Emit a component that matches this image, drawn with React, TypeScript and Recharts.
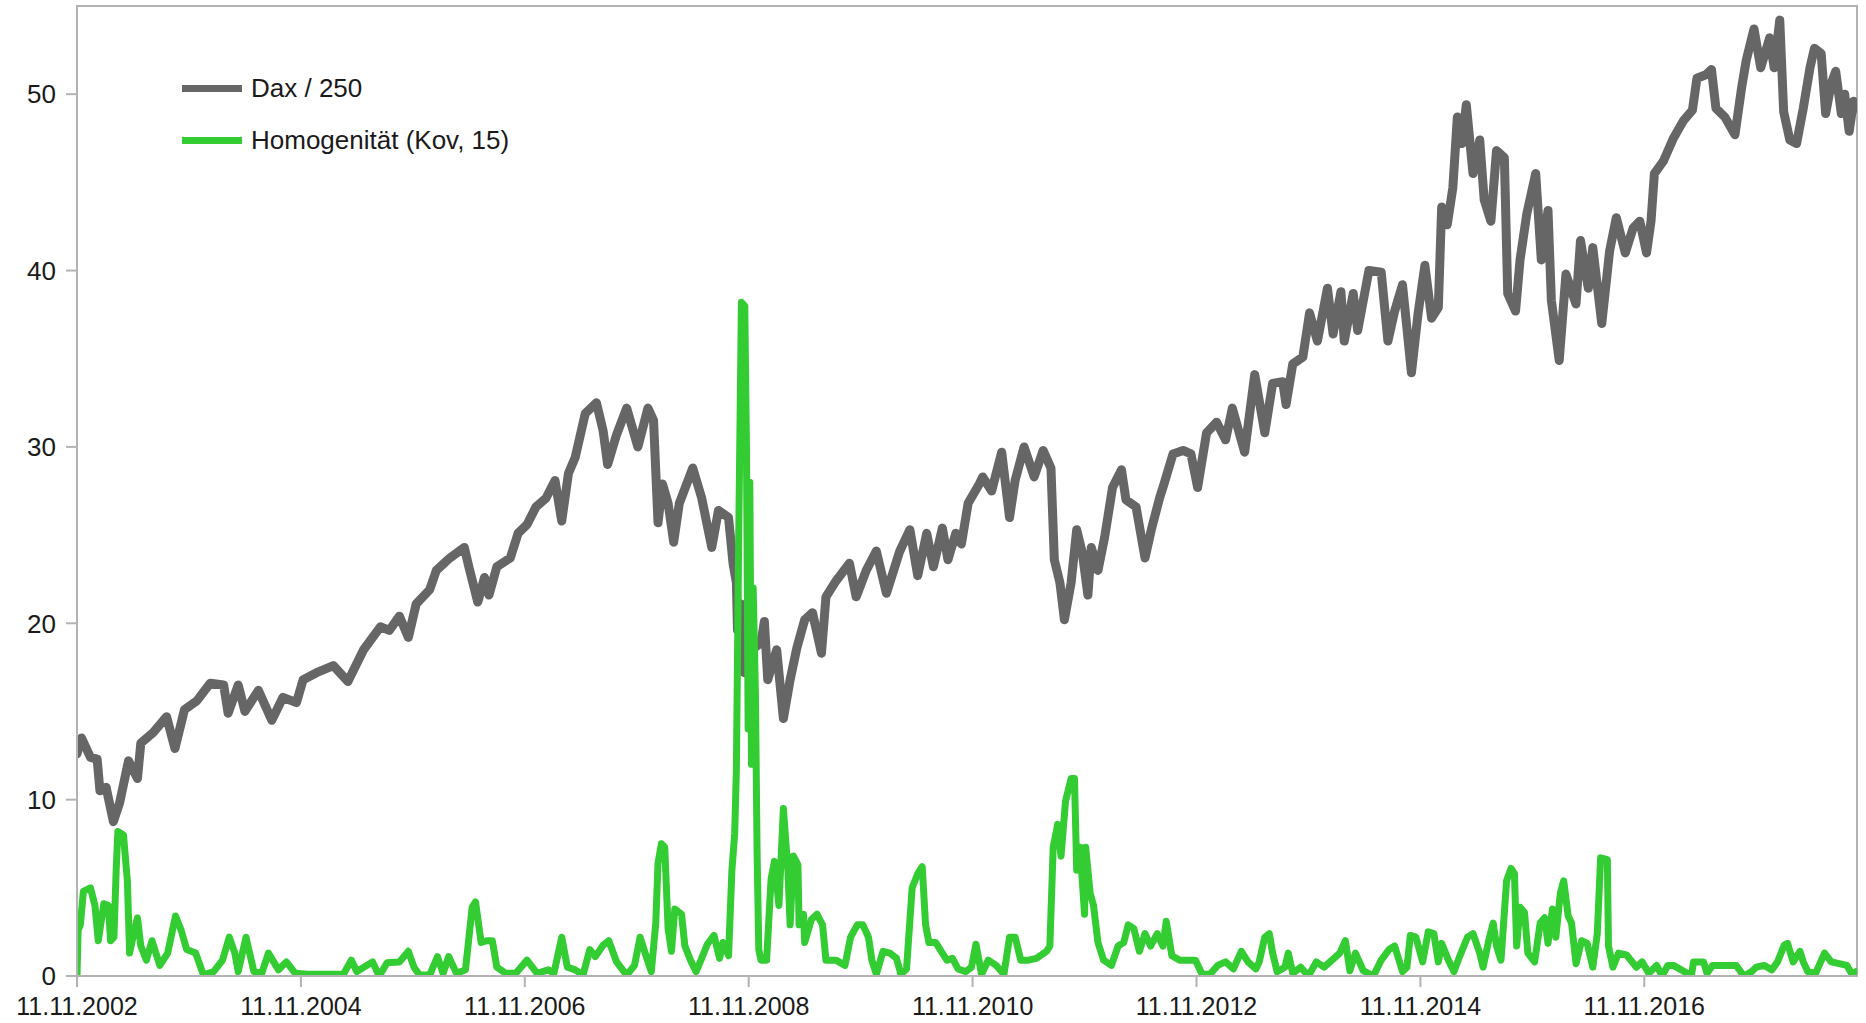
import React from 'react';
import { LineChart, Line, XAxis, YAxis, ReferenceArea } from 'recharts';

// time in years since 11.11.2002, value
const daxSeries: [number, number][] = [
  [0, 12.6], [0.04, 13.5], [0.12, 12.4], [0.18, 12.3], [0.205, 10.5], [0.26, 10.7], [0.325, 8.75], [0.38, 9.8],
  [0.46, 12.2], [0.54, 11.2], [0.57, 13.2], [0.68, 13.8], [0.8, 14.7], [0.875, 12.9], [0.96, 15.1], [1.07, 15.6],
  [1.19, 16.6], [1.31, 16.5], [1.35, 14.9], [1.44, 16.5], [1.5, 15.0], [1.62, 16.2], [1.74, 14.5], [1.84, 15.8],
  [1.96, 15.5], [2.02, 16.8], [2.14, 17.2], [2.29, 17.6], [2.42, 16.7], [2.56, 18.5], [2.71, 19.8], [2.79, 19.6],
  [2.88, 20.4], [2.96, 19.2], [3.03, 21.1], [3.15, 21.9], [3.21, 23.0], [3.33, 23.7], [3.46, 24.3], [3.5, 23.2],
  [3.58, 21.2], [3.64, 22.6], [3.68, 21.6], [3.75, 23.2], [3.87, 23.7], [3.94, 25.1], [4.02, 25.6], [4.1, 26.6],
  [4.19, 27.1], [4.27, 28.1], [4.33, 25.8], [4.39, 28.5], [4.45, 29.4], [4.54, 31.9], [4.64, 32.5], [4.7, 30.9],
  [4.74, 29.0], [4.82, 30.7], [4.91, 32.2], [5.01, 30.0], [5.1, 32.2], [5.15, 31.5], [5.19, 25.7], [5.23, 27.9],
  [5.28, 26.8], [5.33, 24.6], [5.38, 26.8], [5.5, 28.8], [5.58, 27.1], [5.67, 24.3], [5.73, 26.4], [5.82, 26.0],
  [5.86, 23.4], [5.89, 22.3], [5.9, 19.6], [5.93, 21.1], [5.96, 17.2], [6.01, 19.4], [6.05, 18.6], [6.11, 18.9],
  [6.14, 20.1], [6.17, 16.8], [6.25, 18.5], [6.31, 14.6], [6.37, 16.8], [6.43, 18.6], [6.5, 20.2], [6.57, 20.6],
  [6.65, 18.3], [6.69, 21.5], [6.78, 22.4], [6.9, 23.4], [6.96, 21.5], [7.05, 23.0], [7.14, 24.1], [7.23, 21.7],
  [7.35, 24.1], [7.44, 25.3], [7.51, 22.7], [7.59, 25.1], [7.65, 23.2], [7.73, 25.4], [7.78, 23.6], [7.85, 25.1],
  [7.9, 24.5], [7.96, 26.8], [8.06, 27.9], [8.09, 28.3], [8.17, 27.5], [8.26, 29.7], [8.33, 26.0], [8.38, 28.1],
  [8.46, 30.0], [8.55, 28.3], [8.63, 29.8], [8.7, 28.8], [8.73, 23.6], [8.78, 22.3], [8.82, 20.2], [8.88, 22.3],
  [8.93, 25.3], [8.98, 24.0], [9.03, 21.6], [9.06, 24.3], [9.12, 23.0], [9.18, 24.9], [9.25, 27.7], [9.33, 28.7],
  [9.37, 27.0], [9.46, 26.6], [9.54, 23.7], [9.6, 25.4], [9.67, 27.1], [9.71, 27.9], [9.79, 29.6], [9.88, 29.8],
  [9.95, 29.6], [10.01, 27.7], [10.09, 30.8], [10.18, 31.4], [10.26, 30.4], [10.32, 32.2], [10.43, 29.7], [10.52, 34.1],
  [10.61, 30.8], [10.68, 33.6], [10.77, 33.7], [10.8, 32.4], [10.86, 34.7], [10.95, 35.1], [11.01, 37.6], [11.08, 36.0],
  [11.17, 39.0], [11.22, 36.4], [11.29, 38.8], [11.32, 36.0], [11.4, 38.7], [11.44, 36.6], [11.54, 40.0], [11.65, 39.9],
  [11.71, 36.0], [11.77, 37.7], [11.84, 39.2], [11.92, 34.2], [11.98, 37.6], [12.04, 40.3], [12.1, 37.3], [12.16, 37.9],
  [12.19, 43.6], [12.24, 42.6], [12.29, 44.7], [12.33, 48.7], [12.37, 47.2], [12.41, 49.4], [12.47, 45.5], [12.53, 47.4],
  [12.57, 44.0], [12.63, 42.8], [12.68, 46.8], [12.75, 46.4], [12.78, 38.7], [12.85, 37.7], [12.89, 40.6], [12.95, 43.2],
  [13.03, 45.5], [13.08, 40.6], [13.14, 43.4], [13.17, 38.3], [13.24, 34.9], [13.3, 39.8], [13.39, 38.1], [13.43, 41.7],
  [13.5, 39.0], [13.54, 41.3], [13.62, 37.0], [13.69, 41.1], [13.75, 43.0], [13.83, 41.0], [13.9, 42.4], [13.96, 42.8],
  [14.02, 41.0], [14.06, 42.8], [14.09, 45.5], [14.17, 46.2], [14.26, 47.5], [14.35, 48.5], [14.43, 49.1], [14.47, 50.9],
  [14.55, 51.1], [14.6, 51.4], [14.64, 49.2], [14.72, 48.7], [14.81, 47.7], [14.87, 50.4], [14.91, 51.9], [14.98, 53.7],
  [15.04, 51.5], [15.12, 53.2], [15.16, 51.5], [15.21, 54.2], [15.245, 49.0], [15.3, 47.4], [15.36, 47.2], [15.42, 49.2],
  [15.48, 51.5], [15.52, 52.6], [15.58, 52.3], [15.62, 48.9], [15.67, 50.6], [15.71, 51.3], [15.76, 48.9], [15.79, 50.0],
  [15.83, 47.9], [15.87, 49.6], [15.9, 49.2],
];

const homSeries: [number, number][] = [
  [0, 0], [0.01, 2.6], [0.03, 2.9], [0.057, 4.8], [0.12, 5.0], [0.16, 4.0], [0.19, 2.0], [0.24, 4.1], [0.28, 4.0],
  [0.3, 2.0], [0.33, 2.2], [0.35, 6.0], [0.365, 8.2], [0.415, 8.0], [0.45, 5.4], [0.47, 1.3], [0.5, 2.2], [0.54, 3.3],
  [0.57, 1.7], [0.62, 0.9], [0.67, 2.0], [0.74, 0.6], [0.81, 1.3], [0.88, 3.4], [0.93, 2.6], [0.98, 1.5], [1.06, 1.3],
  [1.13, 0.05], [1.22, 0.25], [1.3, 0.9], [1.36, 2.2], [1.41, 1.3], [1.44, 0.25], [1.51, 2.2], [1.58, 0.25], [1.65, 0.15],
  [1.71, 1.3], [1.8, 0.35], [1.87, 0.8], [1.95, 0.15], [2.06, 0.1], [2.38, 0.1], [2.45, 0.9], [2.5, 0.25], [2.64, 0.8],
  [2.7, 0], [2.77, 0.75], [2.88, 0.8], [2.96, 1.4], [3.01, 0.5], [3.06, 0.05], [3.15, 0.05], [3.22, 1.1], [3.27, 0.15],
  [3.32, 1.1], [3.39, 0.15], [3.47, 0.35], [3.53, 3.9], [3.56, 4.2], [3.61, 1.9], [3.66, 2.0], [3.71, 2.0], [3.75, 0.5],
  [3.83, 0.15], [3.92, 0.15], [4.02, 0.9], [4.11, 0.15], [4.21, 0.35], [4.26, 0.15], [4.33, 2.2], [4.38, 0.5], [4.45, 0.35],
  [4.52, 0.05], [4.58, 1.5], [4.63, 1.1], [4.7, 1.75], [4.75, 2.0], [4.82, 0.8], [4.91, 0.05], [4.98, 0.6], [5.03, 2.2],
  [5.08, 1.2], [5.13, 0.25], [5.17, 3.0], [5.19, 6.4], [5.22, 7.5], [5.25, 7.3], [5.28, 2.7], [5.31, 1.4], [5.34, 3.8],
  [5.4, 3.5], [5.43, 1.7], [5.48, 0.9], [5.53, 0.25], [5.58, 1.0], [5.63, 1.8], [5.69, 2.3], [5.74, 1.0], [5.77, 1.9],
  [5.82, 1.15], [5.85, 6.0], [5.875, 8.1], [5.89, 11.7], [5.91, 24.5], [5.935, 38.2], [5.965, 38.0], [5.98, 30.0],
  [5.995, 14.0], [6.01, 28.0], [6.025, 12.0], [6.04, 22.0], [6.06, 16.0], [6.075, 7.0], [6.09, 1.5], [6.11, 0.9],
  [6.16, 0.9], [6.2, 5.5], [6.23, 6.5], [6.27, 4.0], [6.31, 9.5], [6.35, 6.0], [6.37, 2.9], [6.4, 6.8], [6.44, 6.3],
  [6.45, 2.9], [6.49, 3.5], [6.5, 1.9], [6.56, 3.2], [6.61, 3.5], [6.66, 2.9], [6.69, 0.9], [6.78, 0.9], [6.86, 0.6],
  [6.91, 2.2], [6.97, 2.9], [7.02, 2.9], [7.07, 2.2], [7.1, 0.9], [7.14, 0.1], [7.2, 1.4], [7.26, 1.3], [7.32, 1.0],
  [7.36, 0.1], [7.41, 0.4], [7.46, 5.0], [7.51, 5.8], [7.55, 6.2], [7.58, 2.9], [7.61, 1.9], [7.67, 1.9], [7.72, 1.4],
  [7.77, 0.9], [7.82, 1.0], [7.87, 0.4], [7.94, 0.25], [7.99, 0.5], [8.03, 1.8], [8.08, 0.1], [8.14, 0.9], [8.21, 0.6],
  [8.28, 0.1], [8.33, 2.2], [8.38, 2.2], [8.43, 0.9], [8.5, 0.9], [8.57, 1.0], [8.66, 1.4], [8.69, 1.7], [8.72, 7.3],
  [8.76, 8.6], [8.79, 6.8], [8.83, 9.9], [8.88, 11.2], [8.91, 11.2], [8.93, 6.0], [8.96, 7.3], [9.0, 3.5], [9.01, 7.3],
  [9.05, 4.7], [9.08, 4.0], [9.12, 1.9], [9.17, 0.9], [9.24, 0.6], [9.3, 1.7], [9.35, 1.9], [9.39, 2.9], [9.44, 2.7],
  [9.49, 1.4], [9.54, 2.4], [9.59, 1.7], [9.65, 2.4], [9.7, 1.7], [9.73, 3.1], [9.78, 1.15], [9.85, 0.9], [9.92, 0.9],
  [9.99, 0.9], [10.05, 0.1], [10.12, 0.1], [10.19, 0.6], [10.26, 0.8], [10.33, 0.4], [10.4, 1.4], [10.46, 0.8],
  [10.53, 0.4], [10.56, 0.8], [10.61, 2.2], [10.65, 2.4], [10.68, 1.3], [10.72, 0.25], [10.79, 0.5], [10.82, 1.3],
  [10.86, 0.15], [10.93, 0.5], [11.0, 0], [11.07, 0.8], [11.14, 0.5], [11.21, 0.9], [11.28, 1.3], [11.33, 2.0],
  [11.37, 0.3], [11.42, 1.3], [11.49, 0.3], [11.58, 0], [11.65, 0.9], [11.72, 1.5], [11.77, 1.7], [11.84, 0.25],
  [11.88, 0.5], [11.91, 2.3], [11.96, 2.2], [12.02, 0.8], [12.07, 2.5], [12.12, 2.4], [12.16, 0.8], [12.19, 1.85],
  [12.25, 0.9], [12.3, 0.25], [12.35, 1.1], [12.42, 2.2], [12.47, 2.4], [12.53, 1.3], [12.56, 0.5], [12.61, 2.0],
  [12.65, 3.0], [12.68, 1.7], [12.72, 0.9], [12.77, 5.4], [12.81, 6.1], [12.84, 5.8], [12.86, 1.7], [12.89, 3.9],
  [12.93, 3.6], [12.96, 1.3], [13.02, 0.8], [13.07, 3.0], [13.11, 3.3], [13.14, 1.85], [13.18, 3.8], [13.21, 2.2],
  [13.25, 4.7], [13.28, 5.4], [13.32, 3.4], [13.35, 3.0], [13.39, 0.7], [13.44, 2.0], [13.49, 1.85], [13.54, 0.5],
  [13.58, 2.4], [13.61, 6.7], [13.67, 6.6], [13.68, 1.7], [13.72, 0.5], [13.77, 1.3], [13.84, 1.2], [13.93, 0.5],
  [13.98, 0.8], [14.04, 0.15], [14.11, 0.6], [14.16, 0], [14.21, 0.6], [14.26, 0.6], [14.33, 0.35], [14.42, 0],
  [14.44, 0.8], [14.53, 0.8], [14.56, 0.15], [14.61, 0.6], [14.68, 0.6], [14.82, 0.6], [14.89, 0], [14.96, 0.25],
  [15.0, 0.5], [15.07, 0.6], [15.14, 0.35], [15.19, 0.8], [15.25, 1.75], [15.28, 1.85], [15.33, 0.8], [15.39, 1.4],
  [15.42, 0.8], [15.46, 0.25], [15.53, 0.15], [15.61, 1.3], [15.67, 0.8], [15.74, 0.7], [15.81, 0.6], [15.86, 0.05],
  [15.89, 0.25],
];

const xTicks = [0, 2, 4, 6, 8, 10, 12, 14];
const xTickLabels = ['11.11.2002', '11.11.2004', '11.11.2006', '11.11.2008', '11.11.2010', '11.11.2012', '11.11.2014', '11.11.2016'];
const yTicks = [0, 10, 20, 30, 40, 50];
const seriesNames = ['Dax / 250', 'Homogenität (Kov, 15)'];

const GRAY = '#666666';
const GREEN = '#33cc33';
const AXIS = '#b3b3b3';
const FONT = '"Liberation Sans", Arial, sans-serif';

const daxData = daxSeries.map(([t, v]) => ({ t, v }));
const homData = homSeries.map(([t, v]) => ({ t, v }));

export default function App() {
  const tickStyle = { fill: '#1a1a1a', fontSize: 25, fontFamily: FONT };
  return (
    <div style={{ position: 'absolute', left: 0, top: 0, width: 1866, height: 1023, background: '#fff' }}>
      <LineChart width={1866} height={1023} margin={{ top: 6, right: 9, bottom: 0, left: 0 }}>
        <XAxis
          type="number"
          dataKey="t"
          domain={[0, 15.9]}
          allowDataOverflow
          ticks={xTicks}
          interval={0}
          tickFormatter={(v: number) => xTickLabels[xTicks.indexOf(v)] ?? ''}
          height={47}
          tickSize={11}
          tickMargin={10}
          axisLine={{ stroke: AXIS, strokeWidth: 2 }}
          tickLine={{ stroke: AXIS, strokeWidth: 2 }}
          tick={tickStyle}
        />
        <YAxis
          type="number"
          domain={[0, 55]}
          allowDataOverflow
          ticks={yTicks}
          interval={0}
          width={77}
          tickSize={11}
          tickMargin={10}
          axisLine={{ stroke: AXIS, strokeWidth: 2 }}
          tickLine={{ stroke: AXIS, strokeWidth: 2 }}
          tick={{ ...tickStyle, fontSize: 26 }}
        />
        <ReferenceArea x1={0} x2={15.9} y1={0} y2={55} fill="none" fillOpacity={0} stroke={AXIS} strokeWidth={2} ifOverflow="visible" />
        <Line
          data={daxData}
          dataKey="v"
          name={seriesNames[0]}
          type="linear"
          stroke={GRAY}
          strokeWidth={9}
          strokeLinejoin="round"
          strokeLinecap="round"
          dot={false}
          activeDot={false}
          isAnimationActive={false}
        />
        <Line
          data={homData}
          dataKey="v"
          name={seriesNames[1]}
          type="linear"
          stroke={GREEN}
          strokeWidth={7}
          strokeLinejoin="round"
          strokeLinecap="round"
          dot={false}
          activeDot={false}
          isAnimationActive={false}
        />
      </LineChart>
      <div style={{ position: 'absolute', left: 182, top: 68, fontFamily: FONT, fontSize: 26, color: '#1a1a1a' }}>
        {seriesNames.map((name, i) => (
          <div key={name} style={{ display: 'flex', alignItems: 'center', height: 40, marginBottom: i === 0 ? 12 : 0 }}>
            <div style={{ width: 60, height: 7, background: i === 0 ? GRAY : GREEN, marginRight: 9 }} />
            <span style={{ whiteSpace: 'pre' }}>{name}</span>
          </div>
        ))}
      </div>
    </div>
  );
}
